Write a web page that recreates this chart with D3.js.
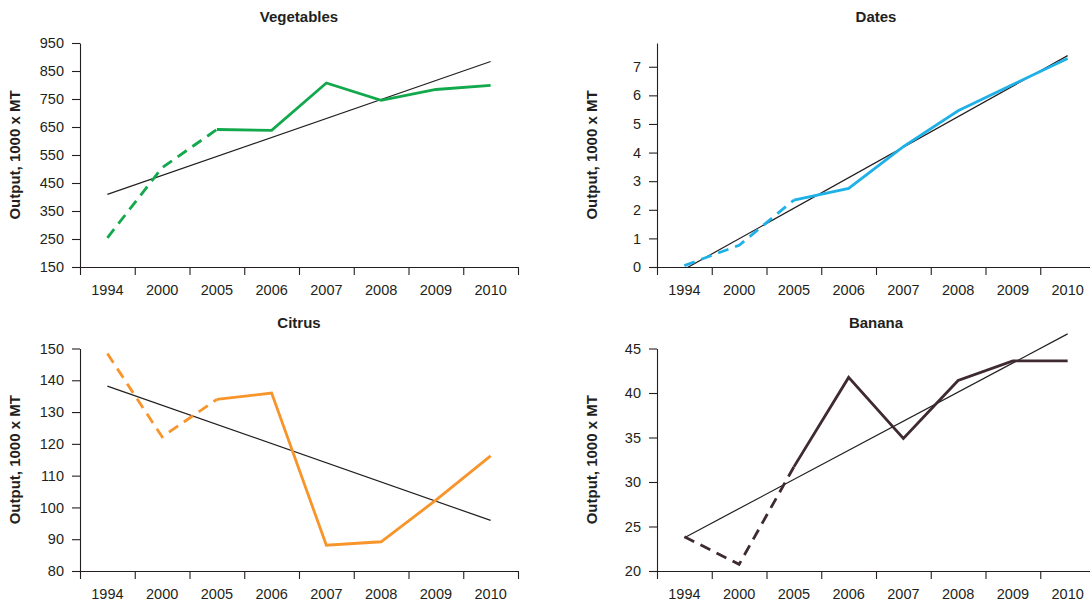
<!DOCTYPE html>
<html>
<head>
<meta charset="utf-8">
<script src="https://cdn.jsdelivr.net/npm/d3@7"></script>
<style>
  html, body { margin: 0; padding: 0; background: #fff; }
  svg { display: block; font-family: "Liberation Sans", Arial, Helvetica, sans-serif; }
  .axis path, .axis line { stroke: #231f20; stroke-width: 1.1; }
  .axis text { fill: #231f20; font-size: 14.5px; }
</style>
</head>
<body>
<svg id="chart" width="1090" height="606"></svg>
<script>
// Categories along the x axis
const years = ["1994", "2000", "2005", "2006", "2007", "2008", "2009", "2010"];

// Output, 1000 x MT, per crop
const vegetables = [254, 505, 641, 638, 807, 745, 784, 799];
const dates      = [0.05, 0.76, 2.34, 2.75, 4.21, 5.46, 6.38, 7.29];
const citrus     = [148.4, 122.2, 134.0, 136.0, 88.1, 89.2, 102.3, 116.2];
const banana     = [23.85, 20.75, 31.7, 41.75, 34.9, 41.4, 43.6, 43.6];

// Y tick labels per panel
const vegetablesTicks = [150, 250, 350, 450, 550, 650, 750, 850, 950];
const datesTicks      = [0, 1, 2, 3, 4, 5, 6, 7];
const citrusTicks     = [80, 90, 100, 110, 120, 130, 140, 150];
const bananaTicks     = [20, 25, 30, 35, 40, 45];

// Years up to this one are drawn dashed (interpolated part of the series)
const dashedThrough = "2005";

const yLabel = "Output, 1000 x MT";

const panels = [
  { title: "Vegetables", values: vegetables, ticks: vegetablesTicks, domain: [150, 950],  color: "#12a84c", col: 0, row: 0 },
  { title: "Dates",      values: dates,      ticks: datesTicks,      domain: [0, 7.83],   color: "#1eb1e8", col: 1, row: 0 },
  { title: "Citrus",     values: citrus,     ticks: citrusTicks,     domain: [80, 150],   color: "#f7942a", col: 0, row: 1 },
  { title: "Banana",     values: banana,     ticks: bananaTicks,     domain: [20, 45],    color: "#3e2a30", col: 1, row: 1 }
];

const svg = d3.select("#chart");
const colX = [80, 657];          // left edge of each plot column
const plotW = 438;
const rowY = [[43, 267], [348.5, 571]]; // [top, bottom] of each plot row

// least-squares trend over the category index
function trend(vals) {
  const n = vals.length;
  const xm = (n - 1) / 2;
  const ym = d3.mean(vals);
  let sxy = 0, sxx = 0;
  vals.forEach((v, i) => { sxy += (i - xm) * (v - ym); sxx += (i - xm) * (i - xm); });
  const b = sxy / sxx;
  const a = ym - b * xm;
  return [a, a + b * (n - 1)];
}

panels.forEach((p, k) => {
  const x0 = colX[p.col];
  const [top, bottom] = rowY[p.row];

  const x = d3.scaleBand().domain(years).range([x0, x0 + plotW]);
  const xEdges = d3.scaleLinear().domain([0, years.length]).range([x0, x0 + plotW]);
  const y = d3.scaleLinear().domain(p.domain).range([bottom, top]);
  const cx = d => x(d) + x.bandwidth() / 2;

  const g = svg.append("g");

  // title
  g.append("text")
    .attr("x", x0 + plotW / 2)
    .attr("y", top - 21)
    .attr("text-anchor", "middle")
    .style("font-size", "15px")
    .style("font-weight", "bold")
    .style("fill", "#231f20")
    .text(p.title);

  // y axis title
  g.append("text")
    .attr("transform", `translate(${x0 - 65},${(top + bottom) / 2}) rotate(-90)`)
    .attr("text-anchor", "middle")
    .attr("dy", "0.35em")
    .style("font-size", "15px")
    .style("font-weight", "bold")
    .style("fill", "#231f20")
    .text(yLabel);

  // y axis
  g.append("g")
    .attr("class", "axis")
    .attr("transform", `translate(${x0},0)`)
    .call(d3.axisLeft(y).tickValues(p.ticks).tickSize(8).tickSizeOuter(0).tickPadding(8));

  // x axis: boundary ticks
  g.append("g")
    .attr("class", "axis")
    .attr("transform", `translate(0,${bottom})`)
    .call(d3.axisBottom(xEdges).tickValues(d3.range(years.length + 1)).tickFormat("").tickSize(8).tickSizeOuter(0));

  // x axis: category labels centred in bands
  const lab = g.append("g")
    .attr("class", "axis")
    .attr("transform", `translate(0,${bottom})`)
    .call(d3.axisBottom(x).tickSize(0).tickPadding(18));
  lab.select(".domain").remove();

  // trend line, clipped at the x axis
  const clipId = "clip" + k;
  svg.append("clipPath").attr("id", clipId)
    .append("rect")
    .attr("x", x0).attr("y", top - 60)
    .attr("width", plotW).attr("height", bottom - top + 60);

  const [t0, t1] = trend(p.values);
  g.append("line")
    .attr("clip-path", `url(#${clipId})`)
    .attr("x1", cx(years[0])).attr("y1", y(t0))
    .attr("x2", cx(years[years.length - 1])).attr("y2", y(t1))
    .attr("stroke", "#231f20")
    .attr("stroke-width", 1.2);

  const pts = years.map((yr, i) => ({ yr, v: p.values[i] }));
  const split = years.indexOf(dashedThrough);
  const line = d3.line().x(d => cx(d.yr)).y(d => y(d.v));

  g.append("path")
    .datum(pts.slice(0, split + 1))
    .attr("d", line)
    .attr("fill", "none")
    .attr("stroke", p.color)
    .attr("stroke-width", 2.8)
    .attr("stroke-dasharray", "11,7");

  g.append("path")
    .datum(pts.slice(split))
    .attr("d", line)
    .attr("fill", "none")
    .attr("stroke", p.color)
    .attr("stroke-width", 2.8)
    .attr("stroke-linejoin", "miter");
});
</script>
</body>
</html>
